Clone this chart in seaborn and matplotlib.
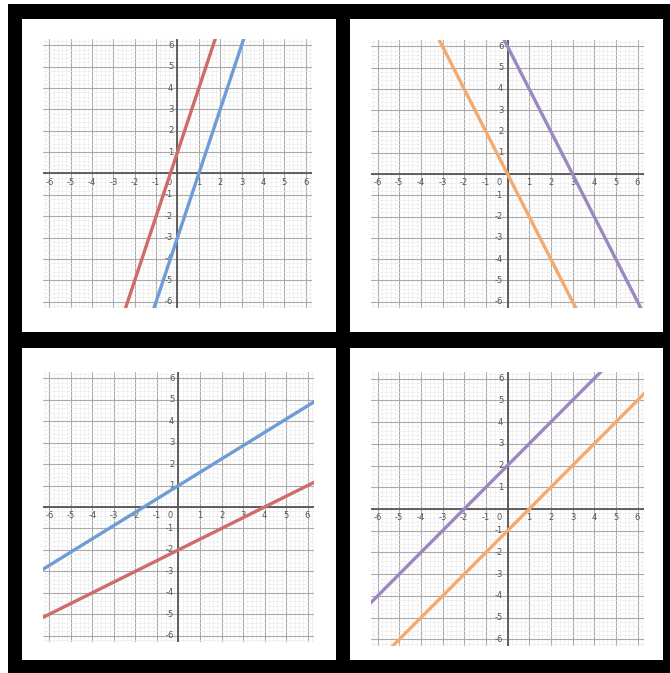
import numpy as np
import pandas as pd
import matplotlib
matplotlib.use("Agg")
import matplotlib.pyplot as plt
import seaborn as sns
from matplotlib.patches import Rectangle

# tick values shown on both axes
tick_values = [-6, -5, -4, -3, -2, -1, 0, 1, 2, 3, 4, 5, 6]

# each line is given by two points (clipped by the axes)
tl_red_x, tl_red_y = [-3.0, 2.0], [-8.0, 7.0]
tl_blue_x, tl_blue_y = [-2.0, 4.0], [-9.0, 9.0]

tr_orange_x, tr_orange_y = [-3.5, 3.5], [7.0, -7.0]
tr_purple_x, tr_purple_y = [-0.5, 6.5], [7.0, -7.0]

bl_blue_x, bl_blue_y = [-7.0, 7.0], [-3.34, 5.34]
bl_red_x, bl_red_y = [-7.0, 7.0], [-5.5, 1.5]

br_purple_x, br_purple_y = [-7.0, 5.0], [-5.0, 7.0]
br_orange_x, br_orange_y = [-6.0, 7.0], [-7.0, 6.0]

RED = "#cf6b68"
BLUE = "#6e9dd3"
ORANGE = "#f5a96c"
PURPLE = "#9b88c2"

W, H = 670, 673
sns.set_style("white")
plt.rcParams['font.family'] = ['DejaVu Sans']

fig = plt.figure(figsize=(W / 100, H / 100), dpi=100)
fig.patch.set_facecolor("white")


def px_rect(x0, y0, x1, y1, color, z):
    # rectangle given in image pixels (origin top-left)
    fig.patches.append(Rectangle((x0 / W, 1 - y1 / H), (x1 - x0) / W, (y1 - y0) / H,
                                 transform=fig.transFigure, facecolor=color,
                                 edgecolor="none", zorder=z))


# black frame and the four white cards, behind the axes
px_rect(8, 4, 670, 673, "black", -2)
for box in [(22, 19, 336, 332), (350, 19, 663, 332), (22, 348, 336, 660), (350, 348, 663, 660)]:
    px_rect(*box, "white", -1)


def graph(box, lines):
    x0, y0, x1, y1 = box
    ax = fig.add_axes([x0 / W, 1 - y1 / H, (x1 - x0) / W, (y1 - y0) / H])
    ax.set_facecolor("none")
    lim = 6.3
    ax.set_xticks(tick_values)
    ax.set_yticks(tick_values)
    minor = np.round(np.arange(-6.2, 6.21, 0.2), 2)
    ax.set_xticks(minor, minor=True)
    ax.set_yticks(minor, minor=True)
    ax.grid(which="minor", color="#ececec", linewidth=0.5)
    ax.grid(which="major", color="#aaaaaa", linewidth=0.8)
    ax.tick_params(which="both", length=0, labelbottom=False, labelleft=False)
    for s in ax.spines.values():
        s.set_visible(False)
    ax.axhline(0, color="#555555", linewidth=1.3, zorder=2)
    ax.axvline(0, color="#555555", linewidth=1.3, zorder=2)

    for v in tick_values:
        if v == 0:
            ax.annotate("0", (0, 0), xytext=(-4, -3), textcoords="offset points",
                        ha="right", va="top", fontsize=6, color="#555555")
            continue
        ax.annotate(str(v), (v, 0), xytext=(0, -3), textcoords="offset points",
                    ha="center", va="top", fontsize=6, color="#555555")
        ax.annotate(str(v), (0, v), xytext=(-3, 0), textcoords="offset points",
                    ha="right", va="center", fontsize=6, color="#555555")

    for xs, ys, c in lines:
        sns.lineplot(x=xs, y=ys, color=c, linewidth=2.4, ax=ax, zorder=3)
    ax.set_xlim(-lim, lim)
    ax.set_ylim(-lim, lim)
    return ax


graph((43, 39, 312, 308), [(tl_red_x, tl_red_y, RED), (tl_blue_x, tl_blue_y, BLUE)])
graph((371, 40, 644, 308), [(tr_orange_x, tr_orange_y, ORANGE), (tr_purple_x, tr_purple_y, PURPLE)])
graph((43, 372, 314, 642), [(bl_blue_x, bl_blue_y, BLUE), (bl_red_x, bl_red_y, RED)])
graph((371, 372, 644, 646), [(br_purple_x, br_purple_y, PURPLE), (br_orange_x, br_orange_y, ORANGE)])

fig.savefig("out.png", dpi=100)
